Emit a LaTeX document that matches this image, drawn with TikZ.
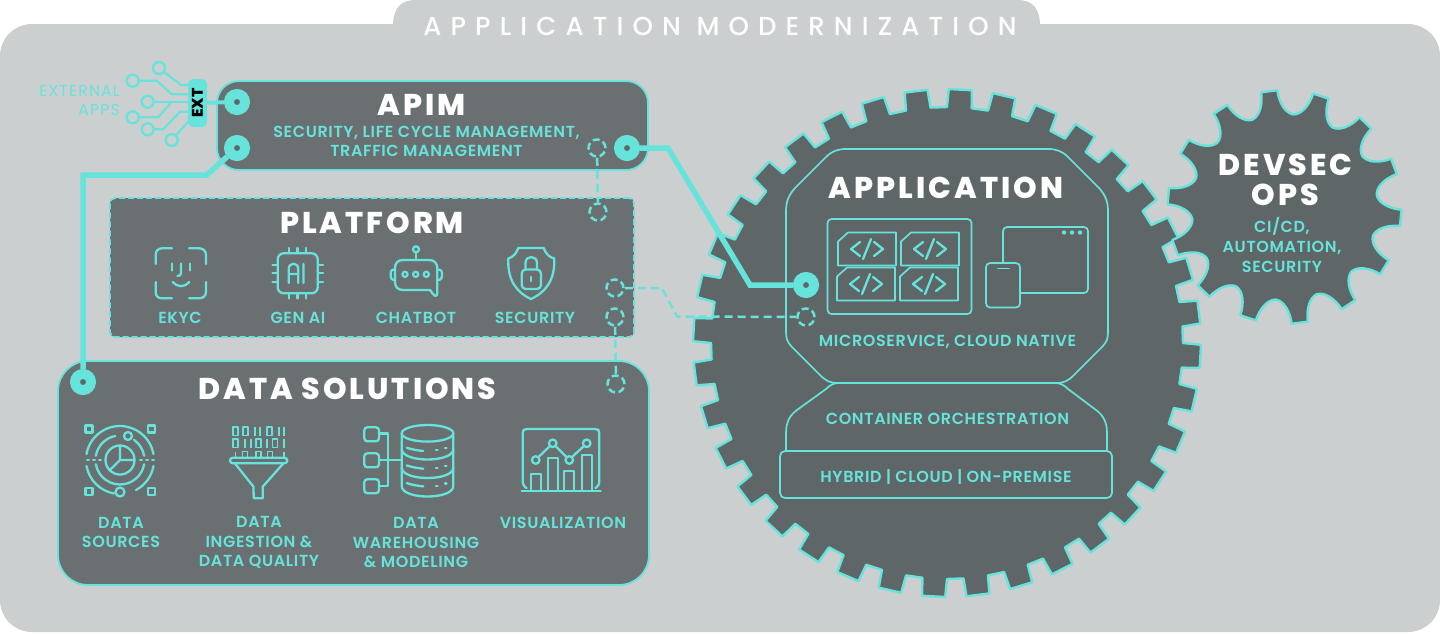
\documentclass[tikz,border=0pt]{standalone}
\usepackage{fontspec}
\setmainfont{Poppins}
\newfontfamily\headfont[LetterSpace=10]{Poppins ExtraBold}
\newfontfamily\titlefont[LetterSpace=35]{Poppins Medium}
\newfontfamily\labelfont[LetterSpace=4]{Poppins SemiBold}
\newfontfamily\extfont[LetterSpace=7]{Poppins}
\newfontfamily\tagfont{Poppins ExtraBold}
\usetikzlibrary{positioning}
\definecolor{pagegray}{HTML}{CCCFCF}
\definecolor{panelgray}{HTML}{6A7072}
\definecolor{geargray}{HTML}{5F6668}
\definecolor{tealline}{HTML}{66E3DB}

\begin{document}
\begin{tikzpicture}[
  x=1pt, y=-1pt,
  panel/.style={rectangle, rounded corners=22pt, fill=panelgray, draw=tealline, line width=1.8pt, inner sep=0pt},
  gearline/.style={fill=geargray, draw=tealline, line width=2.4pt, line join=round},
  outline/.style={draw=tealline, line width=1.7pt, line join=round},
  icon/.style={draw=tealline, line width=2.3pt, line cap=round, line join=round},
  heading/.style={font=\headfont\fontsize{30}{30}\selectfont, text=white, inner sep=0pt, align=center},
  lbl/.style={font=\labelfont\fontsize{16}{19.6}\selectfont, text=tealline, inner sep=0pt, align=center},
  port/.style={circle, fill=geargray, draw=tealline, line width=10pt, minimum size=16pt, inner sep=0pt},
  dashport/.style={circle, draw=tealline, line width=2.5pt, dash pattern=on 7pt off 3.6pt, minimum size=17pt, inner sep=0pt},
  link/.style={draw=tealline, line width=5.5pt, line join=miter},
  dashlink/.style={draw=tealline, line width=2.5pt, dash pattern=on 8pt off 5pt},
  pin/.style={circle, draw=tealline, line width=2.4pt, minimum size=12pt, inner sep=0pt},
  trace/.style={draw=tealline, line width=2.2pt, line join=miter},
]
  \useasboundingbox (0,0) rectangle (1440,633);

  % page
  \fill[pagegray, rounded corners=32pt] (0,24) rectangle (1440,632);
  \fill[pagegray] (393,26) .. controls (393,8) and (401,0) .. (415,0) -- (1018,0) .. controls (1032,0) and (1040,8) .. (1040,26) -- cycle;
  \node[font=\titlefont\fontsize{26}{30}\selectfont, text=white, inner sep=0pt] (title) at (720,26.5) {APPLICATION MODERNIZATION};

  % gears
  \begin{scope}[shift={(947,343)}]
    \draw[gearline] (0.4:254) \foreach \a in {3,13,...,353} {
      -- (\a-2.6:254) -- (\a+2.6:254) -- (\a+3:236) -- (\a+7:236) } -- cycle;
  \end{scope}
  \begin{scope}[shift={(1284.5,207)}]
    \draw[gearline] (-101.5:117) \foreach \k in {0,...,13} {
      \pgfextra{\pgfmathsetmacro{\a}{-97.5+25.714*\k}}
      -- (\a-4:117) -- (\a+4:117)
      .. controls (\a+4.5:104) and (\a+8:94) .. (\a+12.86:93)
      .. controls (\a+17.7:94) and (\a+21.2:104) .. (\a+21.7:117) } -- cycle;
  \end{scope}

  % panels
  \node[panel, minimum width=431pt, minimum height=89pt] (apim) at (432.5,125.5) {};
  \node[panel, rounded corners=5pt, dash pattern=on 6pt off 3pt, minimum width=524pt, minimum height=139pt] (platform) at (372,267.5) {};
  \node[panel, rounded corners=30pt, minimum width=591pt, minimum height=224pt] (datasol) at (353.5,473) {};

  \node[heading] (apimtitle) at (421.5,105) {APIM};
  \node[lbl, font=\labelfont\fontsize{16}{18.3}\selectfont] (apimtext) at (426.5,141.5) {SECURITY, LIFE CYCLE MANAGEMENT,\\TRAFFIC MANAGEMENT};
  \node[heading] (platformtitle) at (372,223) {PLATFORM};
  \node[heading] (datatitle) at (347.5,389) {DATA SOLUTIONS};

  % application stack
  \draw[outline] (838,383) .. controls (830,383) and (826,381) .. (820,375) -- (792,347)
    .. controls (787,342) and (786,338) .. (786,332) -- (786,212)
    .. controls (786,202) and (788,196) .. (795,188) -- (826,157)
    .. controls (832,151) and (838,149) .. (846,149) -- (1048,149)
    .. controls (1056,149) and (1062,151) .. (1068,157) -- (1099,188)
    .. controls (1106,196) and (1108,202) .. (1108,212) -- (1108,332)
    .. controls (1108,338) and (1107,342) .. (1102,347) -- (1074,375)
    .. controls (1068,381) and (1064,383) .. (1056,383) -- cycle;
  \draw[outline] (786,451) -- (786,433) .. controls (786,422) and (790,415) .. (797,410) -- (826,389)
    .. controls (830,385) and (834,383) .. (838,383);
  \draw[outline] (1107,451) -- (1107,433) .. controls (1107,422) and (1103,415) .. (1096,410) -- (1068,389)
    .. controls (1064,385) and (1060,383) .. (1056,383);
  \node[panel, fill=geargray, line width=1.7pt, rounded corners=5pt, minimum width=332pt, minimum height=47pt] (hybrid) at (946,474.5) {};
  \node[heading] (apptitle) at (946,188) {APPLICATION};
  \node[lbl] (apptext) at (947.5,341.5) {MICROSERVICE, CLOUD NATIVE};
  \node[lbl] (containertext) at (947.5,419) {CONTAINER ORCHESTRATION};
  \node[lbl] (hybridtext) at (946,477) {HYBRID | CLOUD | ON-PREMISE};

  % microservice chips
  \draw[outline, rounded corners=4pt] (827.5,219) rectangle (971.5,314);
  \foreach \x/\y in {838/232.5, 901/232.5, 837/267.5, 900/267.5} {
    \draw[outline] (\x+10,\y) -- (\x+58,\y) -- (\x+58,\y+33) -- (\x,\y+33) -- (\x,\y+9) -- cycle;
    \draw[icon] (\x+22,\y+9.5) -- (\x+13,\y+16.5) -- (\x+22,\y+23.5);
    \draw[icon] (\x+36,\y+9.5) -- (\x+45,\y+16.5) -- (\x+36,\y+23.5);
    \draw[icon] (\x+33,\y+6.5) -- (\x+25,\y+26.5);
  }

  % window and phone
  \draw[outline, rounded corners=4pt] (1003,227) rectangle (1088,293);
  \foreach \x in {1064,1072,1080} { \fill[tealline] (\x,232.5) circle (2.2pt); }
  \draw[outline, fill=geargray, rounded corners=4pt] (986,263) rectangle (1020,307.5);
  \draw[icon, line width=1.7pt] (998,268.5) -- (1009,268.5);

  % devsecops text
  \node[heading] (devtitle) at (1285.5,180) {DEVSEC\\OPS};
  \node[lbl, font=\labelfont\fontsize{16}{20}\selectfont] (devtext) at (1282,245) {CI/CD,\\AUTOMATION,\\SECURITY};

  % ports
  \node[port] (portext) at (237,102) {};
  \node[port] (portdata) at (237,148) {};
  \node[port] (portout) at (627,148) {};
  \node[port] (portapp) at (806,285) {};
  \node[port] (portsol) at (83,382) {};
  \node[dashport] (dashapim) at (597,148) {};
  \node[dashport] (dashplat) at (598,212) {};
  \node[dashport] (dashout) at (615,288) {};
  \node[dashport] (dashdown) at (615,317) {};
  \node[dashport] (dashsol) at (616,384) {};
  \node[dashport] (dashapp) at (806,317) {};

  \draw[link] (portdata) -- (206.5,175) -- (83,175) -- (portsol);
  \draw[link] (portout) -- (668,148) -- (750,285) -- (portapp);
  \draw[dashlink] (dashapim) -- (dashplat);
  \draw[dashlink] (dashout) -- (662,288) -- (677,316.5) -- (dashapp);
  \draw[dashlink] (dashdown) -- (dashsol);

  % external apps
  \node[rectangle, rounded corners=5pt, fill=tealline, minimum width=19pt, minimum height=48pt, inner sep=0pt] (extbox) at (197.5,103) {};
  \node[font=\tagfont\fontsize{15.5}{15}\selectfont, text=black, rotate=90, inner sep=0pt] (exttext) at (197.5,103) {EXT};
  \draw[link, line width=4pt] (extbox) -- (portext);
  \node[pin] (pina) at (159,68) {};
  \node[pin] (pinb) at (132.7,80.7) {};
  \node[pin] (pinc) at (147.7,101.7) {};
  \node[pin] (pind) at (132.7,117.3) {};
  \node[pin] (pine) at (147.7,129.3) {};
  \node[pin] (pinf) at (171.7,140) {};
  \coordinate (extpa) at (188,85);
  \coordinate (extpb) at (188,94.3);
  \coordinate (extpc) at (188,101.7);
  \coordinate (extpe) at (188,111.7);
  \coordinate (extpf) at (188,122);
  \draw[trace] (pina) -- (181,85) -- (extpa);
  \draw[trace] (pinb) -- (156.7,80.7) -- (171.7,94.3) -- (extpb);
  \draw[trace] (pinc) -- (extpc);
  \draw[trace] (pind) -- (158.3,117.3) -- (171.7,101.7);
  \draw[trace] (pine) -- (163.3,129.3) -- (180,111.7) -- (extpe);
  \draw[trace] (pinf) -- (extpf);
  \node[font=\extfont\fontsize{15.8}{19}\selectfont, text=tealline, align=right, anchor=east, inner sep=0pt] (exttitle) at (120,100.5) {EXTERNAL\\APPS};

  % platform icons
  \draw[icon] (155.7,264) -- (155.7,255) .. controls (155.7,251) and (158,248.3) .. (162,248.3) -- (172,248.3);
  \draw[icon] (189,248.3) -- (199,248.3) .. controls (203,248.3) and (206,251) .. (206,255) -- (206,264);
  \draw[icon] (155.7,282) -- (155.7,292) .. controls (155.7,296) and (158,298.3) .. (162,298.3) -- (172,298.3);
  \draw[icon] (189,298.3) -- (199,298.3) .. controls (203,298.3) and (206,296) .. (206,292) -- (206,282);
  \draw[icon] (171.7,263.5) -- (171.7,270.5) (190,263.5) -- (190,270.5);
  \draw[icon] (181,263.5) -- (181,273) .. controls (181,275) and (180,276) .. (177.5,276);
  \draw[icon] (172.7,282) .. controls (177,287.5) and (185,287.5) .. (189.3,282);
  \node[lbl] (ekyclabel) at (180,318) {EKYC};

  \draw[icon, rounded corners=6pt] (277.7,253.3) rectangle (317.7,293.3);
  \foreach \x in {289,297.5,305.7} { \draw[icon] (\x,248) -- (\x,253) (\x,293.5) -- (\x,298.5); }
  \foreach \y in {265,273.3,281.7} { \draw[icon] (272.5,\y) -- (277.5,\y) (318,\y) -- (323,\y); }
  \draw[icon] (288.7,283) -- (288.7,269) .. controls (288.7,262) and (298.3,262) .. (298.3,269) -- (298.3,283) (288.7,274) -- (298.3,274) (303.5,264) -- (303.5,283);
  \node[lbl] (genailabel) at (298,318) {GEN AI};

  \draw[icon] (416,252.5) -- (416,260);
  \draw[icon] (416,249.3) circle (3pt);
  \draw[icon] (403,260) -- (429,260) .. controls (434,260) and (437.3,263) .. (437.3,268) -- (437.3,293)
    .. controls (437.3,296) and (435,297) .. (433,294) -- (430,290) -- (403,290)
    .. controls (398,290) and (395,287) .. (395,282) -- (395,268) .. controls (395,263) and (398,260) .. (403,260) -- cycle;
  \draw[icon] (395,269.5) .. controls (391,269.5) and (390.7,271) .. (390.7,274.5) .. controls (390.7,278) and (391,280) .. (395,280);
  \draw[icon] (437.3,269.5) .. controls (441.5,269.5) and (442,271) .. (442,274.5) .. controls (442,278) and (441.5,280) .. (437.3,280);
  \foreach \x in {405,415.7,426.3} { \draw[icon] (\x,274.3) circle (2.6pt); }
  \node[lbl] (chatbotlabel) at (416,318) {CHATBOT};

  \draw[icon] (518.3,248) -- (543.7,248) .. controls (546,254) and (549,257) .. (554.3,258.5)
    .. controls (555,280) and (546,292) .. (531,299) .. controls (516,292) and (507.5,280) .. (508.3,258.5)
    .. controls (513,257) and (516,254) .. (518.3,248) -- cycle;
  \draw[icon, rounded corners=4pt] (521.7,269.5) rectangle (541,289);
  \draw[icon] (525.5,269.5) -- (525.5,263) .. controls (525.5,255) and (537,255) .. (537,263) -- (537,269.5);
  \draw[icon, line width=2.8pt] (531,277) -- (531,281);
  \node[lbl] (securitylabel) at (535,318) {SECURITY};

  % data icons
  \foreach \x/\y in {89/429, 151.3/429, 89/491.7, 151.3/491.7} { \draw[icon, line cap=butt] (\x-3.5,\y-3.5) rectangle (\x+3.5,\y+3.5); }
  \draw[icon] (-170:34) ++(120,460) arc (-170:-10:34);
  \draw[icon] (170:34) ++(120,460) arc (170:100:34);
  \draw[icon] (10:34) ++(120,460) arc (10:62:34);
  \draw[icon] (-101:24.5) ++(120,460) arc (-101:-170:24.5);
  \draw[icon] (170:24.5) ++(120,460) arc (170:10:24.5);
  \draw[icon] (-10:24.5) ++(120,460) arc (-10:-55:24.5);
  \draw[icon, fill=panelgray] (128,436) circle (4pt);
  \draw[icon, fill=panelgray] (120,492) circle (4.5pt);
  \draw[icon] (120,460) circle (14.5pt);
  \draw[icon] (120,445.5) -- (120,460) -- (134.5,460) (120,460) -- (110,470);
  \draw[icon, line width=2pt, dash pattern=on 2pt off 4pt] (87,460) -- (101,460) (140,460) -- (155,460);
  \node[lbl] (srclabel) at (121,532.5) {DATA\\SOURCES};

  \draw[icon, rounded corners=2.8pt] (230,457.7) rectangle (287.3,463.3);
  \draw[icon] (235,463.5) -- (253.5,486.7) -- (253.7,498.3) -- (262.7,498.3) -- (262.7,486.7) -- (283.3,463.5);
  \foreach \x in {235.3,245.7,269.3} { \draw[icon, line width=1.8pt, line cap=butt] (\x-2.5,427) rectangle (\x+2.5,435.5); }
  \foreach \x in {255,260,279,284} { \draw[icon, line width=1.8pt, line cap=butt] (\x,427) -- (\x,435.5); }
  \foreach \x in {235.3,258.3,275} { \draw[icon, line width=1.8pt, line cap=butt] (\x-2.5,439) rectangle (\x+2.5,447.5); }
  \foreach \x in {245,251,267,284} { \draw[icon, line width=1.8pt, line cap=butt] (\x,439) -- (\x,447.5); }
  \foreach \x in {245,258.3,270} { \draw[icon, line width=1.8pt, line cap=butt] (\x-2.5,457.5) -- (\x-2.5,451.5) -- (\x+2.5,451.5) -- (\x+2.5,457.5); }
  \foreach \x in {235.5,284} { \draw[icon, line width=1.8pt, line cap=butt] (\x,451.5) -- (\x,457.5); }
  \node[lbl] (ingestlabel) at (259,542.5) {DATA\\INGESTION \&\\DATA QUALITY};

  \foreach \y in {427.3,453.3,479.2} { \draw[icon, rounded corners=3pt] (364.3,\y) rectangle (379,\y+14); }
  \draw[icon] (379,433.5) -- (388.3,433.5) -- (388.3,485.7) -- (379,485.7) (379,460) -- (401.7,460);
  \draw[icon] (427.5,433.3) ellipse (25.8pt and 8.3pt);
  \draw[icon] (401.7,433.3) -- (401.7,486) .. controls (401.7,500) and (453.3,500) .. (453.3,486) -- (453.3,433.3);
  \draw[icon] (401.7,449) .. controls (401.7,463) and (453.3,463) .. (453.3,449);
  \draw[icon] (401.7,467.5) .. controls (401.7,481.5) and (453.3,481.5) .. (453.3,467.5);
  \foreach \y in {0,17.7,35.4} {
    \draw[icon] (406.7,447.7+\y) .. controls (412,449.5+\y) and (418,450.5+\y) .. (423.3,451+\y);
    \draw[icon] (436,450.3+\y) -- (437.5,450.3+\y) (445,448+\y) -- (446.5,448+\y);
  }
  \node[lbl] (warelabel) at (416,542.5) {DATA\\WAREHOUSING\\\& MODELING};

  \draw[icon] (526.5,488) .. controls (523.5,486) and (522.7,484) .. (522.7,480) -- (522.7,433) .. controls (522.7,430) and (524,429) .. (527,429)
    -- (595,429) .. controls (598,429) and (599.3,430) .. (599.3,433) -- (599.3,480) .. controls (599.3,484) and (598.5,486) .. (595.5,488);
  \draw[icon] (521.7,490.7) -- (600.7,490.7);
  \foreach \x/\y in {530.7/474, 548.3/457.7, 564.3/471, 581.7/455} { \draw[icon, line cap=butt] (\x,490.7) -- (\x,\y) -- (\x+10,\y) -- (\x+10,490.7); }
  \draw[icon, fill=panelgray] (535.7,460) circle (3.8pt);
  \draw[icon, fill=panelgray] (552.7,443.3) circle (3.8pt);
  \draw[icon, fill=panelgray] (569.3,460) circle (3.8pt);
  \draw[icon, fill=panelgray] (586.7,443.3) circle (3.8pt);
  \draw[icon] (538.5,457) -- (550,446) (555.5,446) -- (566.5,457) (572,457) -- (584,446);
  \node[lbl] (vizlabel) at (563,523) {VISUALIZATION};
\end{tikzpicture}
\end{document}
